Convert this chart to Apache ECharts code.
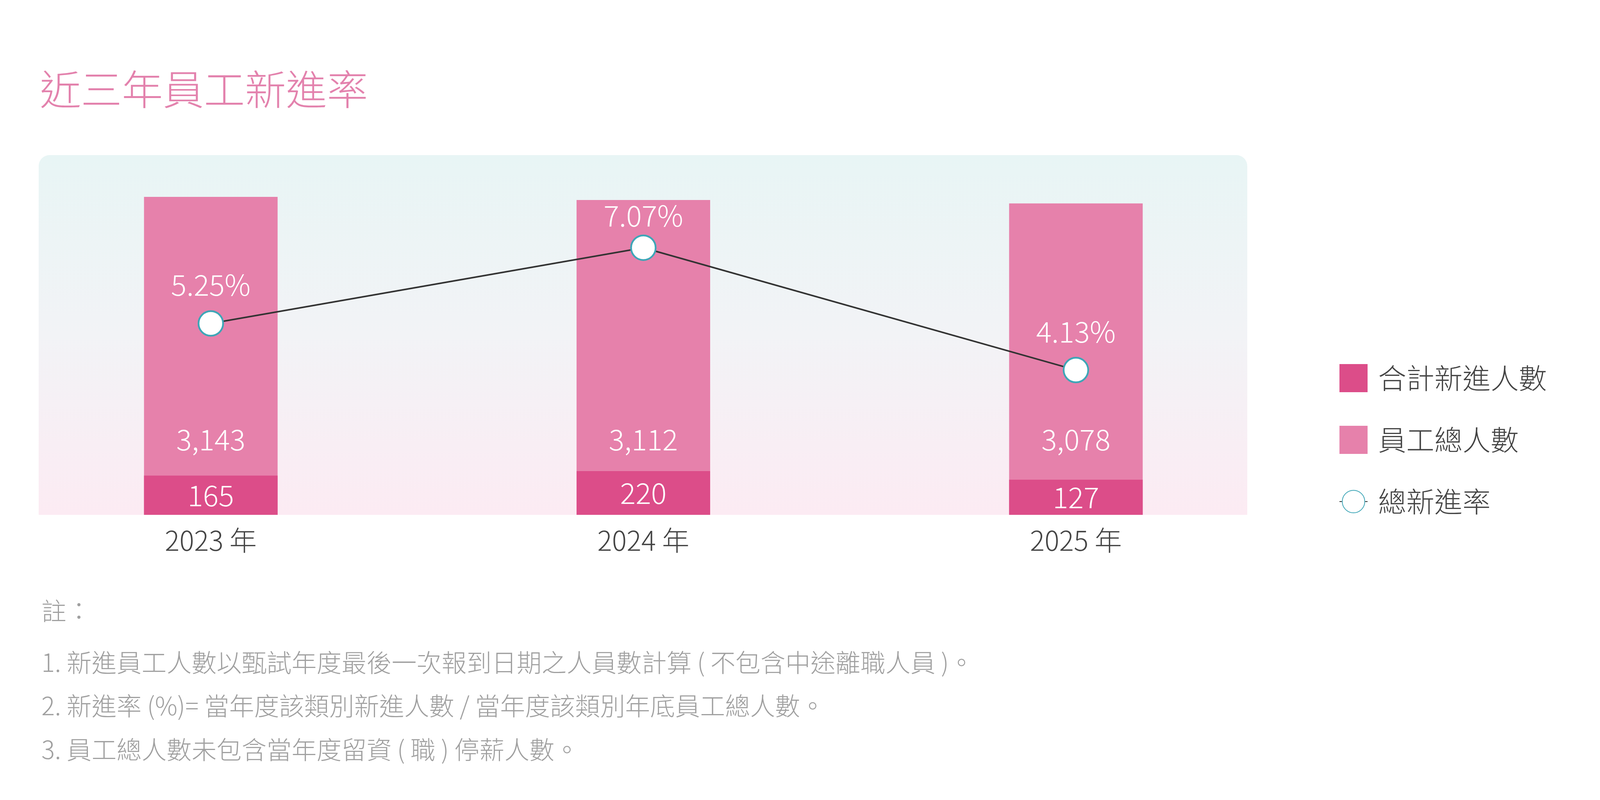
<!DOCTYPE html>
<head>
    <meta charset="utf-8">
    <title>近三年員工新進率</title>
    <script src="https://cdn.jsdelivr.net/npm/echarts@6.0.0/dist/echarts.min.js"></script>
    <style>
        html, body { margin: 0; padding: 0; background: #fff; }
    </style>
</head>
<body>
<div id="main" style="width:4100px;height:2048px"></div>
<script type="text/javascript">
// data
var years = ['2023 年', '2024 年', '2025 年'];
var newHires = [165, 220, 127];          // 合計新進人數
var totalStaff = [3143, 3112, 3078];     // 員工總人數
var hireRate = [5.25, 7.07, 4.13];       // 總新進率 (%)
var notes = [
    '註：',
    '1. 新進員工人數以甄試年度最後一次報到日期之人員數計算 ( 不包含中途離職人員 )。',
    '2. 新進率 (%)= 當年度該類別新進人數 / 當年度該類別年底員工總人數。',
    '3. 員工總人數未包含當年度留資 ( 職 ) 停薪人數。'
];

var FONT = '"Noto Sans CJK TC", "Noto Sans", sans-serif';
var PINK = '#e681ab';
var DEEP = '#dc4d89';
var TEAL = '#3ea6b7';

var myChart = echarts.init(document.getElementById('main'));

var noteY = [1565, 1697, 1808, 1920];
var graphics = [{
    type: 'rect',
    silent: true,
    z: -10,
    shape: { x: 99, y: 397, width: 3094, height: 921, r: [28, 28, 0, 0] },
    style: {
        fill: new echarts.graphic.LinearGradient(0, 0, 0, 1, [
            { offset: 0, color: '#e8f5f5' },
            { offset: 0.5, color: '#f2f3f6' },
            { offset: 1, color: '#fcebf3' }
        ])
    }
}];
notes.forEach(function (t, i) {
    graphics.push({
        type: 'text',
        silent: true,
        left: 106,
        top: noteY[i] - 33,
        style: {
            text: t,
            font: '300 64px ' + FONT,
            fill: '#a0a0a0'
        }
    });
});

var rateMax = Math.max.apply(null, hireRate);

var option = {
    backgroundColor: '#ffffff',
    animation: false,
    textStyle: { fontFamily: FONT },
    title: {
        text: '近三年員工新進率',
        left: 102,
        top: 176,
        padding: 0,
        textStyle: { color: '#e382ad', fontSize: 105, fontWeight: 300, fontFamily: FONT }
    },
    graphic: graphics,
    legend: {
        orient: 'vertical',
        left: 3428,
        top: 932,
        padding: 0,
        itemWidth: 72,
        itemHeight: 72,
        itemGap: 86,
        data: [
            { name: '合計新進人數', icon: 'rect' },
            { name: '員工總人數', icon: 'rect' },
            { name: '總新進率' }
        ],
        textStyle: { color: '#444', fontSize: 72, fontWeight: 300, fontFamily: FONT, padding: [0, 0, 0, 22] }
    },
    grid: [
        { left: -14, right: 792, top: 418, bottom: 730, outerBoundsMode: 'none', containLabel: false },
        { left: -14, right: 792, top: 1198, bottom: 730, outerBoundsMode: 'none', containLabel: false }
    ],
    xAxis: [{
        type: 'category',
        gridIndex: 0,
        data: years,
        axisLine: { show: false },
        axisTick: { show: false },
        splitLine: { show: false },
        axisLabel: { color: '#444', fontSize: 70, fontWeight: 300, fontFamily: FONT, margin: 30 }
    }, {
        type: 'category',
        gridIndex: 1,
        data: years,
        show: false
    }],
    yAxis: [{
        // 員工總人數
        type: 'value',
        gridIndex: 0,
        min: 0,
        max: 3475,
        show: false,
        splitLine: { show: false }
    }, {
        // 總新進率
        type: 'value',
        gridIndex: 0,
        min: 0.65,
        max: 9.1,
        show: false,
        splitLine: { show: false }
    }, {
        // 合計新進人數 (compressed scale, as in the reference)
        type: 'log',
        gridIndex: 1,
        min: 13.4,
        max: 269,
        show: false,
        splitLine: { show: false }
    }],
    series: [{
        name: '員工總人數',
        type: 'bar',
        xAxisIndex: 0,
        yAxisIndex: 0,
        barWidth: 342,
        data: totalStaff,
        itemStyle: { color: PINK },
        label: {
            show: true,
            position: 'insideBottom',
            distance: 156,
            color: '#fff',
            fontSize: 74,
            fontWeight: 300,
            fontFamily: FONT,
            formatter: function (p) { return p.value.toLocaleString('en-US'); }
        }
    }, {
        name: '合計新進人數',
        type: 'bar',
        xAxisIndex: 1,
        yAxisIndex: 2,
        barWidth: 342,
        clip: true,
        data: newHires,
        itemStyle: { color: DEEP },
        label: {
            show: true,
            position: 'inside',
            color: '#fff',
            fontSize: 74,
            fontWeight: 300,
            fontFamily: FONT
        }
    }, {
        name: '總新進率',
        type: 'line',
        xAxisIndex: 0,
        yAxisIndex: 1,
        data: hireRate.map(function (v) {
            // the top label is pulled in closer so it stays inside its bar
            return { value: v, label: { distance: v === rateMax ? 12 : 28 } };
        }),
        symbol: 'circle',
        symbolSize: 63,
        lineStyle: { color: '#333', width: 4 },
        itemStyle: { color: '#fff', borderColor: TEAL, borderWidth: 4.5 },
        label: {
            show: true,
            position: 'top',
            color: '#fff',
            fontSize: 74,
            fontWeight: 300,
            fontFamily: FONT,
            formatter: function (p) { return p.value.toFixed(2) + '%'; }
        },
        z: 5
    }]
};
myChart.setOption(option);
</script>
</body>
